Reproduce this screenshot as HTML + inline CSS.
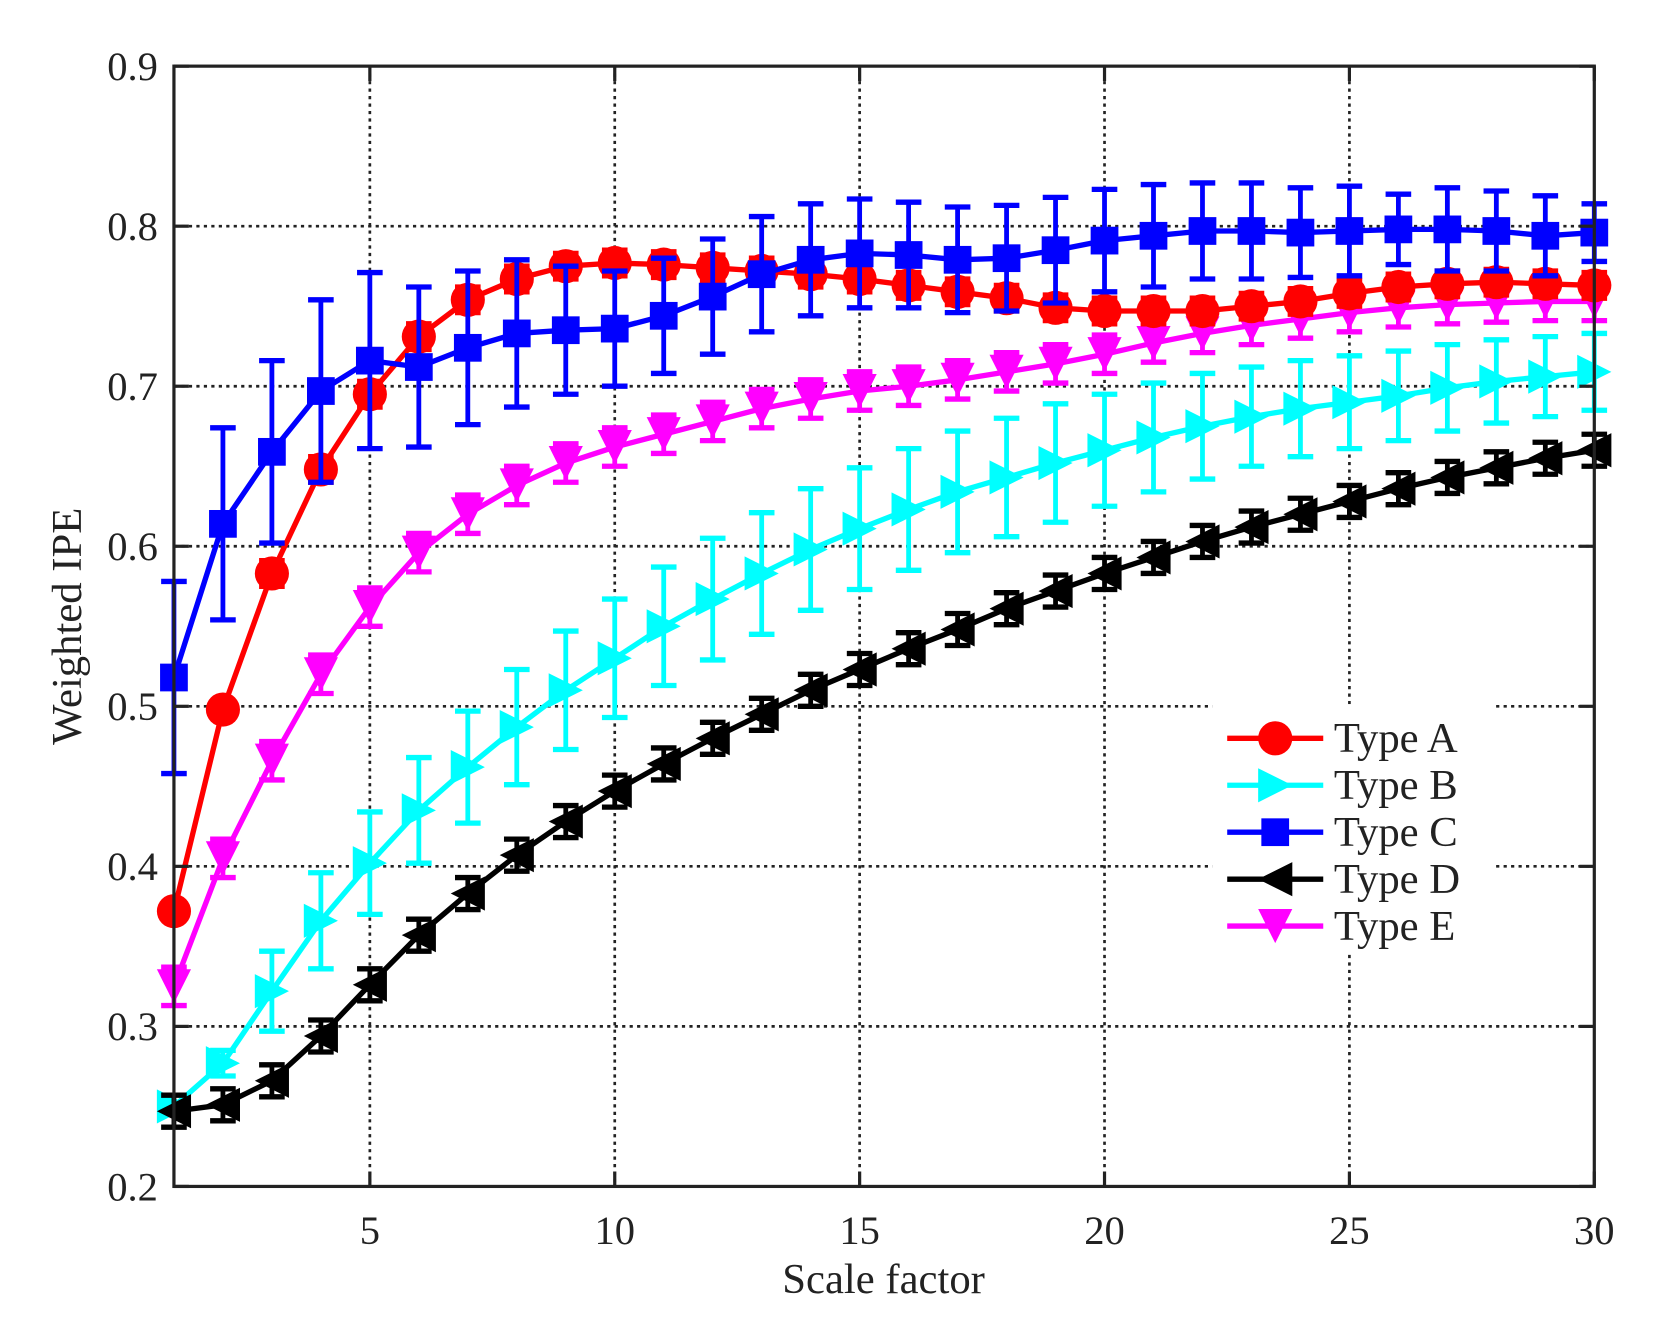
<!DOCTYPE html>
<html><head><meta charset="utf-8"><style>html,body{margin:0;padding:0;background:#fff}svg{display:block}</style></head>
<body>
<svg id="s" width="1669" height="1339" viewBox="0 0 1564 1255" preserveAspectRatio="none" xmlns="http://www.w3.org/2000/svg" font-family="'Liberation Serif', serif" fill="#222">
<rect width="1564" height="1255" fill="#fff"/>
<g id="grid" stroke="#222" stroke-width="2.5" stroke-dasharray="3,4"></g>
<g id="data"></g>
<rect x="163" y="62" width="1331" height="1050" fill="none" stroke="#222" stroke-width="3"/>
<g id="ticks" font-size="38"></g>
<text x="828" y="1212" font-size="40" text-anchor="middle">Scale factor</text>
<text transform="translate(76,587) rotate(-90)" font-size="40" text-anchor="middle">Weighted IPE</text>
<g id="leg"></g>
</svg>
<script>
const NS="http://www.w3.org/2000/svg";
const X=v=>163+(v-1)*(1331/29), Y=v=>1112-(v-0.2)*1500;
function el(p,t,a,txt){const e=document.createElementNS(NS,t);for(const k in a)e.setAttribute(k,a[k]);if(txt!=null)e.textContent=txt;p.appendChild(e);return e;}
const g=document.getElementById('grid'),tk=document.getElementById('ticks');
for(const v of [5,10,15,20,25]){el(g,'line',{x1:X(v),x2:X(v),y1:62,y2:1112});}
for(const v of [0.3,0.4,0.5,0.6,0.7,0.8]){el(g,'line',{x1:163,x2:1494,y1:Y(v),y2:Y(v)});}
const s=document.getElementById('s');
for(const v of [5,10,15,20,25,30]){el(s,'line',{x1:X(v),x2:X(v),y1:1112,y2:1098,stroke:'#222','stroke-width':3});el(s,'line',{x1:X(v),x2:X(v),y1:62,y2:76,stroke:'#222','stroke-width':3});el(tk,'text',{x:X(v),y:1166,'text-anchor':'middle'},String(v));}
for(let i=2;i<=9;i++){const v=i/10;el(s,'line',{x1:163,x2:177,y1:Y(v),y2:Y(v),stroke:'#222','stroke-width':3});el(s,'line',{x1:1480,x2:1494,y1:Y(v),y2:Y(v),stroke:'#222','stroke-width':3});el(tk,'text',{x:148,y:Y(v)+13,'text-anchor':'end'},v.toFixed(1));}
const A=[0.372,0.498,0.583,0.648,0.695,0.731,0.754,0.767,0.775,0.777,0.776,0.774,0.772,0.770,0.767,0.763,0.759,0.755,0.749,0.747,0.747,0.747,0.750,0.753,0.758,0.762,0.764,0.765,0.764,0.763];
const B=[0.250,0.277,0.322,0.366,0.402,0.435,0.462,0.487,0.510,0.530,0.550,0.567,0.583,0.598,0.611,0.623,0.634,0.643,0.652,0.660,0.668,0.675,0.681,0.686,0.690,0.694,0.699,0.703,0.706,0.709];
const Be=[0,0.008,0.025,0.03,0.032,0.033,0.035,0.036,0.037,0.037,0.037,0.038,0.038,0.038,0.038,0.038,0.038,0.037,0.037,0.035,0.034,0.033,0.031,0.03,0.029,0.028,0.027,0.026,0.025,0.024];
const C=[0.518,0.614,0.659,0.697,0.716,0.712,0.724,0.733,0.735,0.736,0.744,0.756,0.770,0.779,0.783,0.782,0.779,0.780,0.785,0.791,0.794,0.797,0.797,0.796,0.797,0.798,0.798,0.797,0.794,0.796];
const Ce=[0.06,0.06,0.057,0.057,0.055,0.05,0.048,0.046,0.04,0.036,0.036,0.036,0.036,0.035,0.034,0.033,0.033,0.033,0.033,0.032,0.032,0.03,0.03,0.028,0.028,0.022,0.026,0.025,0.025,0.018];
const D=[0.247,0.251,0.266,0.294,0.326,0.357,0.383,0.407,0.428,0.447,0.464,0.480,0.495,0.510,0.523,0.536,0.548,0.561,0.572,0.583,0.593,0.603,0.612,0.620,0.628,0.636,0.643,0.649,0.655,0.660];
const E=[0.325,0.405,0.466,0.520,0.562,0.596,0.620,0.638,0.652,0.662,0.670,0.678,0.686,0.692,0.697,0.700,0.704,0.709,0.714,0.720,0.727,0.733,0.738,0.742,0.746,0.749,0.751,0.752,0.753,0.753];
const series=[[B,Be,'#00ffff','R'],[D,D.map(()=>0.01),'#000','L'],[E,E.map(()=>0.012),'#ff00ff','V'],[A,A.map((v,i)=>i<2?0:0.008),'#ff0000','O'],[C,Ce,'#0000ff','S']];
function marker(p,x,y,t,c){const r=16;
 if(t==='O')el(p,'circle',{cx:x,cy:y,r:r,fill:c});
 else if(t==='S')el(p,'rect',{x:x-13,y:y-13,width:26,height:26,fill:c});
 else if(t==='R')el(p,'polygon',{points:`${x+r},${y} ${x-r},${y-r} ${x-r},${y+r}`,fill:c});
 else if(t==='L')el(p,'polygon',{points:`${x-r},${y} ${x+r},${y-r} ${x+r},${y+r}`,fill:c});
 else el(p,'polygon',{points:`${x},${y+r} ${x-r},${y-r} ${x+r},${y-r}`,fill:c});}
const dg=document.getElementById('data');
for(const [d,e,c,t] of series){
 d.forEach((v,i)=>{if(e[i]>0){const x=X(i+1),y1=Y(v-e[i]),y2=Y(v+e[i]);el(dg,'line',{x1:x,x2:x,y1:y1,y2:y2,stroke:c,'stroke-width':4.5});el(dg,'line',{x1:x-12,x2:x+12,y1:y1,y2:y1,stroke:c,'stroke-width':5});el(dg,'line',{x1:x-12,x2:x+12,y1:y2,y2:y2,stroke:c,'stroke-width':5});}});
 el(dg,'polyline',{points:d.map((v,i)=>X(i+1)+','+Y(v)).join(' '),fill:'none',stroke:c,'stroke-width':5,'stroke-linejoin':'round'});
 d.forEach((v,i)=>marker(dg,X(i+1),Y(v),t,c));}
const lg=document.getElementById('leg');
el(lg,'rect',{x:1136,y:660,width:264,height:232,fill:'#fff'});
[['Type A','#ff0000','O'],['Type B','#00ffff','R'],['Type C','#0000ff','S'],['Type D','#000','L'],['Type E','#ff00ff','V']].forEach(([n,c,t],i)=>{const y=692+i*44;
 el(lg,'line',{x1:1150,x2:1240,y1:y,y2:y,stroke:c,'stroke-width':5});marker(lg,1195,y,t,c);
 el(lg,'text',{x:1250,y:y+13,'font-size':40,fill:'#222'},n);});
</script>
</body></html>
